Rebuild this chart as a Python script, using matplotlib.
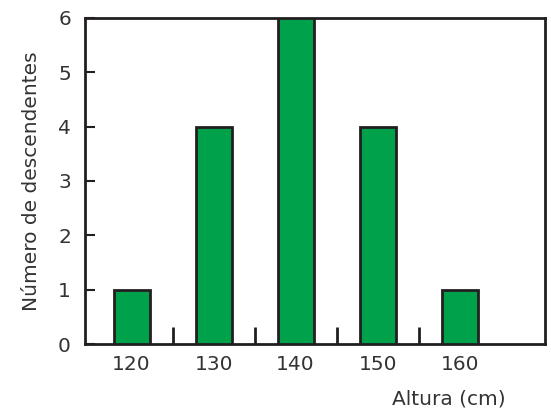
import matplotlib
matplotlib.use('Agg')
import matplotlib.pyplot as plt

plt.rcParams['font.family'] = ['DejaVu Sans']

# datos
altura = [120, 130, 140, 150, 160]
descendentes = [1, 4, 6, 4, 1]
marcas_menores = [125, 135, 145, 155]

verde = '#00a14b'
negro = '#231f20'
gris_texto = '#333333'

fig = plt.figure(figsize=(5.51, 4.15), dpi=100)
ax = fig.add_axes([0.154, 0.171, 0.835, 0.786])

ax.bar(altura, descendentes, width=4.4, color=verde, edgecolor=negro, linewidth=2, zorder=3)

ax.set_xlim(114.3, 170.4)
ax.set_ylim(0, 6)
ax.set_xticks(altura)
ax.set_xticks(marcas_menores, minor=True)
ax.set_yticks(range(0, 7))

ax.tick_params(axis='x', which='major', length=0, pad=8, labelsize=14.5, labelcolor=gris_texto)
ax.tick_params(axis='x', which='minor', direction='in', length=12, width=2, color=negro)
ax.tick_params(axis='y', direction='in', length=7, width=1.5, color=negro, pad=10,
               labelsize=14.5, labelcolor=gris_texto)

for s in ax.spines.values():
    s.set_linewidth(2)
    s.set_color(negro)

ax.set_ylabel('Número de descendentes', fontsize=14.5, color=gris_texto, labelpad=12)
fig.text(0.917, 0.026, 'Altura (cm)', fontsize=14.5, color=gris_texto, ha='right', va='baseline')

fig.savefig('out.png', dpi=100)
